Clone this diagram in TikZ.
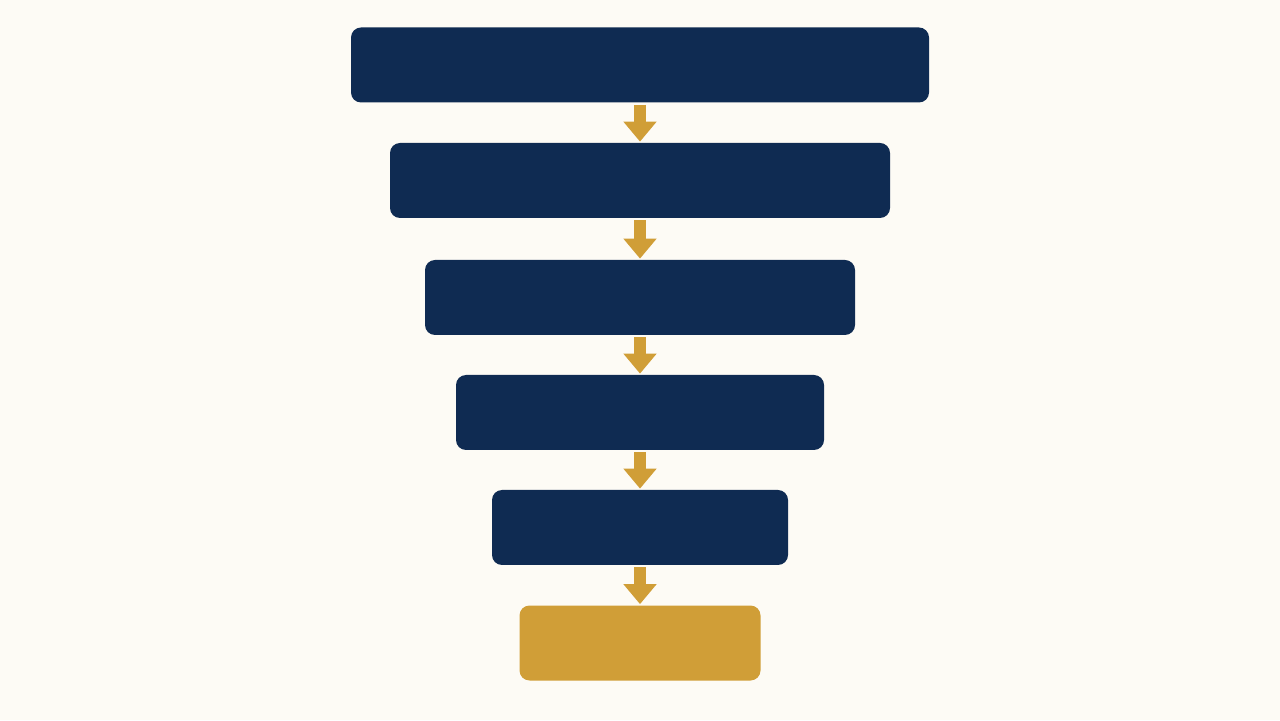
\documentclass[tikz,border=0pt]{standalone}
\usetikzlibrary{arrows.meta}
\definecolor{navy}{HTML}{0F2B52}
\definecolor{gold}{HTML}{D09E37}
\definecolor{paper}{HTML}{FDFBF5}

\begin{document}
\begin{tikzpicture}[
  stage/.style={rectangle,rounded corners=0.2cm,fill=navy,minimum height=1.5cm,inner sep=0pt},
  goal/.style={stage,fill=gold},
  flow/.style={draw=gold,line width=0.24cm,-{Triangle[width=0.64cm,length=0.4cm]},shorten <=0.04cm,shorten >=0.02cm}
]
\fill[paper] (0,0) rectangle (25.6,14.4);
\useasboundingbox (0,0) rectangle (25.6,14.4);

\node[stage,minimum width=11.56cm] (s1) at (12.8,13.1) {};
\node[stage,minimum width=10cm]    (s2) at (12.8,10.79) {};
\node[stage,minimum width=8.6cm]   (s3) at (12.8,8.45) {};
\node[stage,minimum width=7.36cm]  (s4) at (12.8,6.15) {};
\node[stage,minimum width=5.92cm]  (s5) at (12.8,3.85) {};
\node[goal,minimum width=4.82cm]   (s6) at (12.8,1.54) {};

\draw[flow] (s1) -- (s2);
\draw[flow] (s2) -- (s3);
\draw[flow] (s3) -- (s4);
\draw[flow] (s4) -- (s5);
\draw[flow] (s5) -- (s6);
\end{tikzpicture}
\end{document}
